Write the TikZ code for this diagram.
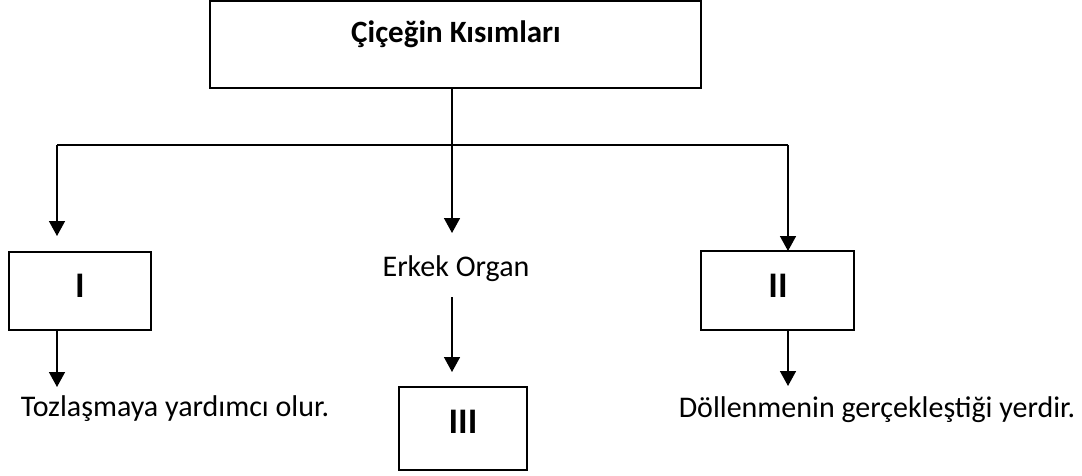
\documentclass[tikz,border=0pt]{standalone}
\usepackage{fontspec}
\setmainfont{Carlito}
\usetikzlibrary{arrows.meta}
\tikzset{
  box/.style={draw, line width=1.6pt, inner sep=0pt},
  lbl/.style={inner sep=0pt, anchor=base, font=\fontsize{30}{36}\selectfont},
  blbl/.style={inner sep=0pt, anchor=base, font=\fontsize{31}{37}\selectfont\bfseries},
  num/.style={inner sep=0pt, anchor=base, font=\fontsize{36}{43}\selectfont\bfseries},
  conn/.style={line width=1.6pt},
  arr/.style={conn, -{Triangle[width=16pt,length=15pt]}},
}
\begin{document}
\begin{tikzpicture}[x=1pt,y=-1pt]
\useasboundingbox (0,0) rectangle (1082,476);
% boxes
\node[box, minimum width=491pt, minimum height=87pt] (top) at (455.5,44.5) {};
\node[blbl] (title) at (456,43) {Çiçeğin Kısımları};
\node[box, minimum width=142pt, minimum height=78pt] (I) at (80,291) {};
\node[num] (Il) at (80,297) {I};
\node[box, minimum width=153pt, minimum height=79pt] (II) at (777.5,290.5) {};
\node[num] (IIl) at (778,297) {II};
\node[box, minimum width=128pt, minimum height=83pt] (III) at (463,428.5) {};
\node[num] (IIIl) at (463,433) {III};
% texts
\node[lbl] (erkek) at (456,276) {Erkek Organ};
\node[lbl] (toz) at (175,416) {Tozlaşmaya yardımcı olur.};
\node[lbl] (dol) at (877,417) {Döllenmenin gerçekleştiği yerdir.};
% junction coordinates
\coordinate (jc) at (452,145);
\coordinate (jl) at (57,145);
\coordinate (jr) at (788,145);
\coordinate (el) at (57,236);
\coordinate (ec) at (452,233);
\coordinate (er) at (788,251);
\coordinate (bl) at (57,330);
\coordinate (tl) at (57,387);
\coordinate (br) at (788,330);
\coordinate (tr) at (788,386);
\coordinate (eb) at (452,297);
\coordinate (tb) at (452,372);
% connectors
\draw[conn] (top.south -| jc) -- (jc);
\draw[conn] (jl) -- (jr);
\draw[arr] (jc) -- (ec);
\draw[arr] (jl) -- (el);
\draw[arr] (jr) -- (er);
\draw[arr] (I.south -| bl) -- (tl);
\draw[arr] (II.south -| br) -- (tr);
\draw[arr] (eb) -- (tb);
\end{tikzpicture}
\end{document}
